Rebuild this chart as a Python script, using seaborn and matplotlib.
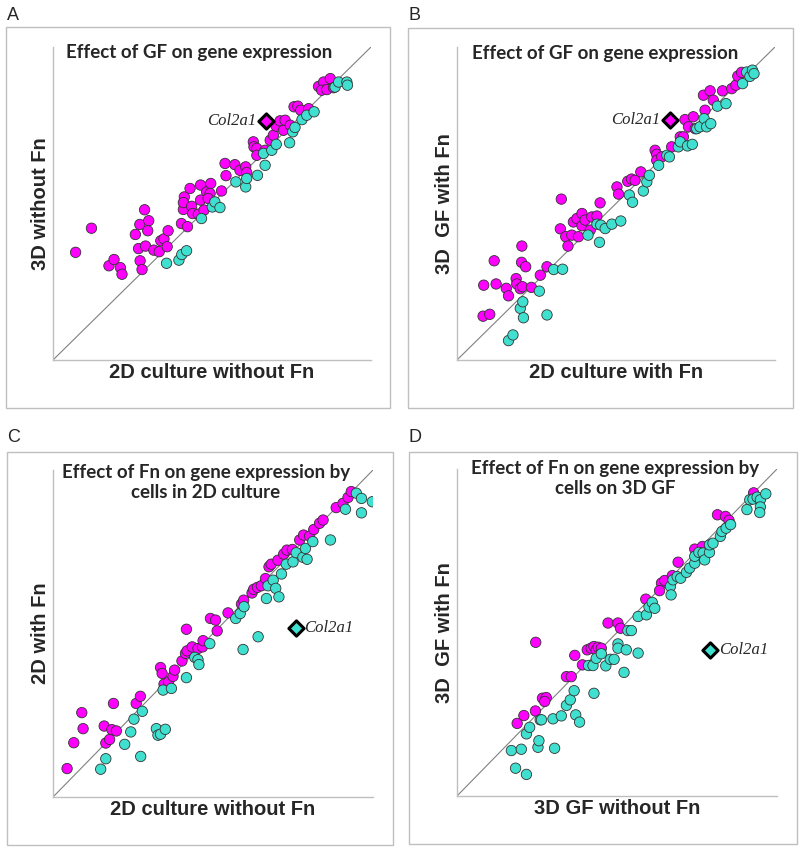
import numpy as np
import pandas as pd
import matplotlib
matplotlib.use("Agg")
import matplotlib.pyplot as plt
import seaborn as sns
from matplotlib.patches import Rectangle

sns.set_style("white")
plt.rcParams['font.family'] = ['Liberation Sans', 'DejaVu Sans']

MAGENTA = "#FF00FF"
CYAN = "#40E0D0"

# ---- Panel A: 2D without Fn (x) vs 3D without Fn (y)
a_up_x = [7.1, 12.1, 17.6, 19.2, 21.2, 21.7, 25.9, 27.3, 28.8, 30.1, 29.8, 26.9, 29.1, 27.4, 28.0,
          31.7, 33.4, 33.9, 34.9, 36.2, 35.9, 40.4, 42.3, 41.0, 41.3, 43.1, 41.0, 43.6, 43.9, 45.7,
          46.4, 46.4, 48.3, 49.6, 49.4, 47.5, 48.8, 53.0, 54.4, 54.1, 57.2, 58.8, 60.6, 60.9, 63.0,
          63.2, 64.1, 64.1, 66.7, 68.3, 69.3, 70.2, 71.4, 72.5, 73.0, 74.6, 75.8, 77.0, 77.9, 80.4,
          83.5, 85.1, 87.2, 84.5, 86.1, 88.2]
a_up_y = [34.4, 42.1, 30.1, 32.1, 29.5, 27.4, 40.1, 43.3, 48.0, 44.5, 41.3, 35.6, 36.4, 31.7, 28.9,
          35.1, 34.6, 38.1, 38.7, 41.3, 36.2, 43.6, 42.6, 48.1, 52.1, 54.8, 50.3, 49.1, 46.8, 46.6,
          55.9, 51.1, 53.7, 56.4, 53.2, 47.9, 51.6, 54.0, 58.9, 62.8, 62.4, 60.6, 61.7, 59.9, 69.7,
          68.1, 67.6, 65.4, 67.0, 70.2, 71.8, 74.7, 76.4, 73.4, 76.6, 75.0, 80.9, 81.1, 79.8, 80.3,
          87.4, 88.8, 89.9, 86.2, 86.4, 87.0]
a_dn_x = [35.7, 39.6, 40.5, 42.0, 46.7, 50.1, 50.9, 52.5, 57.5, 60.6, 60.9, 64.3, 66.7, 66.2, 68.8,
          70.2, 74.4, 75.4, 76.1, 78.3, 79.8, 82.1, 88.7, 89.8, 92.4, 92.6]
a_dn_y = [30.9, 31.9, 33.7, 34.9, 45.2, 48.9, 50.5, 48.7, 56.9, 55.3, 58.0, 59.0, 62.2, 66.0, 67.0,
          68.9, 69.4, 72.9, 74.3, 76.8, 78.2, 79.3, 87.2, 88.8, 88.8, 87.8]

# ---- Panel B: 2D with Fn (x) vs 3D GF with Fn (y)
b_up_x = [8.2, 10.3, 8.4, 11.7, 12.3, 15.5, 16.2, 18.6, 18.8, 19.9, 20.6, 23.4, 20.4, 20.3, 21.6,
          26.2, 28.3, 32.8, 32.5, 34.2, 34.9, 36.1, 36.6, 37.7, 39.3, 39.3, 38.2, 40.3, 41.9, 42.4,
          44.0, 45.0, 50.3, 50.8, 53.7, 54.9, 56.0, 57.8, 62.3, 62.8, 62.8, 64.4, 67.5, 70.2, 71.2,
          71.7, 72.8, 74.3, 74.9, 78.0, 77.5, 79.6, 80.6, 83.5, 86.4, 87.7, 88.3, 89.5]
b_up_y = [14.0, 14.6, 23.9, 31.7, 24.3, 22.9, 20.5, 26.0, 24.3, 22.8, 23.4, 23.2, 36.4, 31.2, 29.8,
          27.1, 29.8, 51.4, 41.9, 39.4, 36.4, 39.9, 44.1, 45.2, 46.8, 42.9, 39.4, 44.7, 41.5, 45.7,
          46.0, 50.2, 55.3, 53.0, 57.1, 57.8, 57.4, 60.1, 67.0, 65.7, 63.8, 64.9, 68.1, 71.3, 71.3,
          76.8, 74.5, 77.7, 73.9, 79.8, 84.6, 86.0, 83.0, 86.0, 86.7, 87.8, 90.7, 91.9]
b_dn_x = [16.2, 17.6, 19.9, 20.7, 20.9, 25.9, 28.3, 30.4, 33.2, 41.2, 44.8, 44.0, 45.2, 46.6, 48.7,
          51.5, 54.2, 55.2, 58.6, 59.7, 60.5, 63.4, 66.0, 66.8, 69.6, 70.2, 72.5, 74.0, 75.4, 76.4,
          77.7, 78.5, 79.8, 81.9, 84.6, 89.8, 91.1, 92.1, 92.9, 93.4]
b_dn_y = [6.2, 8.0, 16.5, 18.6, 13.5, 22.0, 14.4, 28.9, 29.0, 39.9, 37.6, 43.4, 43.1, 42.0, 43.4,
          44.4, 52.7, 50.4, 54.0, 56.9, 59.0, 62.2, 65.4, 64.9, 68.1, 69.7, 68.4, 68.9, 73.9, 74.5,
          77.1, 74.5, 75.5, 81.1, 81.9, 88.3, 92.0, 90.6, 92.6, 91.5]

# ---- Panel C: 2D without Fn (x) vs 2D with Fn (y)
c_up_x = [4.4, 6.5, 9.4, 9.0, 16.0, 16.5, 17.7, 18.4, 19.8, 18.9, 26.0, 27.3, 33.6, 34.1, 34.7,
          36.1, 37.5, 38.0, 41.7, 40.3, 41.4, 41.9, 43.5, 45.3, 46.7, 46.9, 49.2, 50.8, 51.3, 54.7,
          58.9, 59.6, 62.2, 62.7, 63.9, 65.1, 66.4, 67.5, 68.2, 70.3, 72.1, 73.1, 74.8, 77.1, 78.3,
          80.2, 81.5, 83.3, 84.4, 88.5, 90.6, 92.2, 93.2]
c_up_y = [8.7, 16.6, 20.9, 25.8, 21.7, 16.5, 17.6, 20.6, 20.2, 28.6, 28.6, 30.8, 39.6, 37.8, 34.5,
          35.2, 36.9, 38.8, 51.3, 41.6, 43.9, 44.7, 45.9, 45.4, 45.9, 47.8, 54.6, 54.1, 50.8, 56.3,
          59.0, 60.2, 62.4, 63.5, 64.1, 64.6, 66.8, 70.4, 71.2, 72.4, 74.3, 75.5, 75.7, 78.6, 80.1,
          79.8, 81.8, 83.7, 84.7, 88.5, 89.8, 91.6, 93.4]
c_dn_x = [14.9, 16.5, 22.4, 24.3, 25.3, 27.4, 27.9, 32.3, 32.8, 33.6, 35.1, 34.4, 37.0, 41.7, 44.3,
          45.3, 45.6, 49.0, 57.1, 58.5, 59.7, 59.4, 64.1, 66.7, 67.2, 68.8, 69.6, 70.6, 71.4, 72.9,
          75.0, 76.0, 78.1, 79.4, 78.9, 81.2, 86.7, 91.4, 94.8, 96.4, 96.4, 99.8]
c_dn_y = [8.5, 11.7, 16.1, 19.9, 23.8, 12.4, 26.2, 20.9, 18.9, 19.2, 20.7, 32.7, 33.2, 36.5, 42.7,
          42.0, 40.5, 46.9, 54.6, 56.1, 58.2, 45.1, 49.0, 60.7, 64.6, 66.3, 63.8, 61.2, 68.2, 71.2,
          71.9, 74.7, 73.3, 72.7, 76.0, 78.1, 78.6, 88.0, 92.9, 91.3, 86.9, 90.3]

# ---- Panel D: 3D GF without Fn (x) vs 3D GF with Fn (y)
d_up_x = [18.8, 20.9, 24.5, 24.6, 26.7, 27.9, 27.4, 34.2, 35.7, 36.8, 39.2, 40.7, 41.9, 42.8, 43.5,
          44.1, 45.1, 47.2, 50.3, 51.1, 59.0, 63.9, 64.9, 63.3, 67.3, 69.1, 74.3, 76.7, 81.4, 83.9,
          85.0, 92.7]
d_up_y = [22.2, 24.6, 26.0, 47.0, 29.9, 30.1, 28.9, 36.5, 36.5, 43.0, 40.1, 44.7, 45.2, 45.7, 44.7,
          45.5, 45.2, 52.9, 52.9, 51.3, 60.2, 65.1, 65.9, 62.8, 67.4, 71.5, 75.5, 76.3, 86.0, 85.5,
          84.3, 92.7]
d_dn_x = [17.0, 18.3, 20.1, 21.7, 21.7, 22.7, 25.3, 25.6, 26.0, 26.4, 30.0, 30.5, 32.6, 34.2, 35.4,
          36.6, 37.1, 38.3, 42.8, 41.1, 42.5, 43.5, 45.1, 46.5, 47.9, 49.1, 50.3, 50.3, 52.2, 52.9,
          53.4, 54.5, 56.6, 56.6, 59.2, 60.0, 61.0, 61.8, 66.7, 66.9, 67.5, 68.8, 69.9, 71.7, 72.7,
          74.3, 74.3, 75.6, 76.9, 77.4, 78.9, 78.9, 80.0, 82.3, 82.8, 84.1, 85.5, 90.6, 91.5, 92.5,
          93.8, 94.8, 94.8, 94.6, 96.5]
d_dn_y = [13.9, 8.5, 14.3, 6.6, 19.0, 21.0, 14.9, 16.9, 23.3, 23.3, 23.6, 14.6, 24.5, 27.7, 29.4,
          32.2, 24.8, 22.6, 31.4, 39.9, 39.9, 42.1, 43.5, 39.8, 41.8, 41.8, 46.5, 45.2, 37.8, 44.7,
          50.6, 50.6, 43.7, 54.9, 55.4, 57.8, 59.2, 57.4, 64.1, 61.5, 66.1, 67.1, 66.6, 68.4, 69.7,
          71.2, 73.3, 74.5, 74.3, 72.2, 74.5, 76.8, 77.3, 79.4, 80.9, 81.9, 83.0, 87.6, 90.6, 90.8,
          91.4, 90.6, 88.4, 86.7, 92.4]

# Col2a1 position in each panel
col2a1 = {"A": (66.9, 76.4), "B": (67.0, 76.8), "C": (75.8, 51.8), "D": (79.2, 44.5)}

letters = ["A", "B", "C", "D"]
titles = ["Effect of GF on gene expression",
          "Effect of GF on gene expression",
          "Effect of Fn on gene expression by\ncells in 2D culture",
          "Effect of Fn on gene expression by\ncells on 3D GF"]
xlabels = ["2D culture without Fn", "2D culture with Fn", "2D culture without Fn", "3D GF without Fn"]
ylabels = ["3D without Fn", "3D  GF with Fn", "2D with Fn", "3D  GF with Fn"]

data = {
    "A": (a_up_x, a_up_y, a_dn_x, a_dn_y),
    "B": (b_up_x, b_up_y, b_dn_x, b_dn_y),
    "C": (c_up_x, c_up_y, c_dn_x, c_dn_y),
    "D": (d_up_x, d_up_y, d_dn_x, d_dn_y),
}

W, H = 800, 849
fig = plt.figure(figsize=(W / 100, H / 100), dpi=100)

# pixel boxes: (left, top, right, bottom)
axes_px = {"A": (53, 47, 371, 360), "B": (457, 47, 775, 360),
           "C": (53, 470, 373, 797), "D": (457, 469, 777, 796)}
frame_px = {"A": (6, 27, 390, 408), "B": (408, 28, 793, 408),
            "C": (7, 452, 393, 845), "D": (409, 452, 797, 844)}
letter_px = {"A": (7, 16), "B": (409, 16), "C": (7, 438), "D": (409, 438)}
title_pos = {"A": (0.46, 0.981), "B": (0.465, 0.978), "C": (0.478, 0.962), "D": (0.494, 0.970)}
label_side = {"A": "left", "B": "left", "C": "right", "D": "right"}
diamond_fill = {"A": MAGENTA, "B": MAGENTA, "C": CYAN, "D": CYAN}

for key, title, xl, yl in zip(letters, titles, xlabels, ylabels):
    l, t, r, b = axes_px[key]
    ax = fig.add_axes([l / W, 1 - b / H, (r - l) / W, (b - t) / H])
    up_x, up_y, dn_x, dn_y = data[key]
    df = pd.DataFrame({
        "x": up_x + dn_x,
        "y": up_y + dn_y,
        "grp": ["up"] * len(up_x) + ["down"] * len(dn_x),
    })
    ax.plot([0, 100], [0, 100], color="#808080", lw=0.8, zorder=1)
    sns.scatterplot(data=df, x="x", y="y", hue="grp", palette={"up": MAGENTA, "down": CYAN},
                    s=56, edgecolor="#333333", linewidth=0.6, legend=False, ax=ax, zorder=3)
    cx, cy = col2a1[key]
    ax.scatter([cx], [cy], marker="D", s=60, facecolor=diamond_fill[key], edgecolor="black",
               linewidth=2.2, zorder=5)
    if label_side[key] == "left":
        ax.annotate("Col2a1", (cx, cy), xytext=(-7, 0), textcoords="offset points",
                    ha="right", va="center", fontsize=12, style="italic",
                    family="Liberation Serif")
    else:
        ax.annotate("Col2a1", (cx, cy), xytext=(6, 0), textcoords="offset points",
                    ha="left", va="center", fontsize=12, style="italic",
                    family="Liberation Serif")
    tx, ty = title_pos[key]
    ax.text(tx, ty, title, transform=ax.transAxes, ha="center", va="center",
            fontsize=13.5, fontweight="bold", family="Lato", linespacing=1.2)
    ax.set_xlim(0, 100)
    ax.set_ylim(0, 100)
    ax.set_xticks([])
    ax.set_yticks([])
    ax.set_xlabel(xl, fontsize=14.5, fontweight="bold", labelpad=2)
    ax.set_ylabel(yl, fontsize=14.5, fontweight="bold", labelpad=2)
    for side in ["top", "right"]:
        ax.spines[side].set_visible(False)
    for side in ["left", "bottom"]:
        ax.spines[side].set_color("#BFBFBF")
        ax.spines[side].set_linewidth(1.0)

    fl, ft, fr, fb = frame_px[key]
    fig.patches.append(Rectangle((fl / W, 1 - fb / H), (fr - fl) / W, (fb - ft) / H,
                                 transform=fig.transFigure, fill=False,
                                 edgecolor="#BFBFBF", linewidth=1.0))
    lx, ly = letter_px[key]
    fig.text(lx / W, 1 - ly / H, key, fontsize=13, ha="left", va="center")

fig.savefig("out.png", dpi=100)
